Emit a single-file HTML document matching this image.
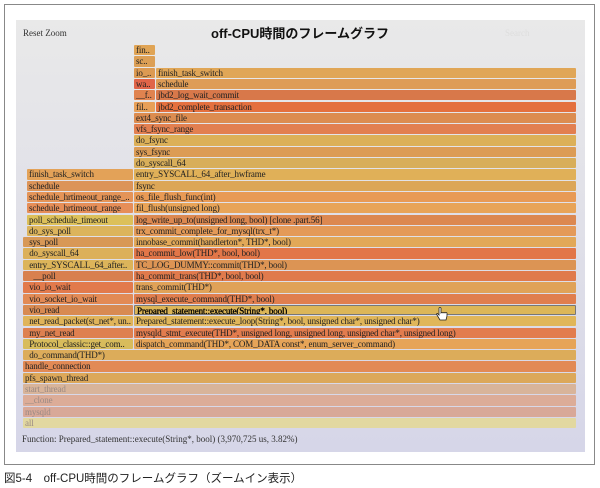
<!DOCTYPE html>
<html><head><meta charset="utf-8"><style>
body{margin:0;width:600px;height:488px;background:#fff;position:relative;overflow:hidden;font-family:"Liberation Serif",serif}
.outer{position:absolute;left:4px;top:4px;width:591px;height:461px;border:1px solid #888;box-sizing:border-box}
.panel{position:absolute;left:16px;top:20px;width:569px;height:432px;background:linear-gradient(#e9e9e9,#d6d6e8)}
.b{position:absolute;height:10.3px;font-size:9px;letter-spacing:-0.15px;line-height:11px;color:#222;padding-left:2px;box-sizing:border-box;white-space:nowrap;overflow:hidden;border-radius:1px}
.t{position:absolute;font-size:9px;color:#333}
</style></head><body>
<div class="outer"></div>
<div class="panel"></div>
<div class="t" style="left:23px;top:28px">Reset Zoom</div>
<div class="t" style="left:505px;top:28px;color:#ddd">Search</div>
<div style="position:absolute;left:0;width:600px;top:23px;text-align:center;font:bold 13px 'Liberation Sans','Noto Sans CJK JP',sans-serif;color:#111">off-CPU時間のフレームグラフ</div>
<div id="g"></div>
<div class="t" style="left:22px;top:434px;font-size:9px">Function: Prepared_statement::execute(String*, bool) (3,970,725 us, 3.82%)</div>
<div style="position:absolute;left:4px;top:470px;font:11.5px 'Liberation Sans','Noto Sans CJK JP',sans-serif;color:#222">図5-4　off-CPU時間のフレームグラフ（ズームイン表示）</div>
<script>
var rows=[
[[134,155,"fin..","#e0a455"]],
[[134,155,"sc..","#dc9f55"]],
[[134,155,"io_..","#dc9a52"],[156,576,"finish_task_switch","#e0a657"]],
[[134,155,"wa..","#e06448"],[156,576,"schedule","#de9c56"]],
[[134,155,"__f..","#e0834f"],[156,576,"jbd2_log_wait_commit","#d8784a"]],
[[134,155,"fil..","#e8a058"],[156,576,"jbd2_complete_transaction","#e4703e"]],
[[134,576,"ext4_sync_file","#dc8c50"]],
[[134,576,"vfs_fsync_range","#e27f50"]],
[[134,576,"do_fsync","#dcb058"]],
[[134,576,"sys_fsync","#dc9c55"]],
[[134,576,"do_syscall_64","#d8ae5a"]],
[[27,133,"finish_task_switch","#e3a258"],[134,576,"entry_SYSCALL_64_after_hwframe","#e0b058"]],
[[27,133,"schedule","#dc9458"],[134,576,"fsync","#dca657"]],
[[27,133,"schedule_hrtimeout_range_..","#e49458"],[134,576,"os_file_flush_func(int)","#e89a55"]],
[[27,133,"schedule_hrtimeout_range","#e68e58"],[134,576,"fil_flush(unsigned long)","#e8a458"]],
[[27,133,"poll_schedule_timeout","#dcc05a"],[134,576,"log_write_up_to(unsigned long, bool) [clone .part.56]","#dc8850"]],
[[27,133,"do_sys_poll","#dcb45c"],[134,576,"trx_commit_complete_for_mysql(trx_t*)","#e49a58"]],
[[23,133,"  sys_poll","#d89856"],[134,576,"innobase_commit(handlerton*, THD*, bool)","#e2a858"]],
[[23,133,"  do_syscall_64","#dcb05a"],[134,576,"ha_commit_low(THD*, bool, bool)","#e27648"]],
[[23,133,"  entry_SYSCALL_64_after..","#dcb45a"],[134,576,"TC_LOG_DUMMY::commit(THD*, bool)","#dc9454"]],
[[23,133,"    __poll","#d8804e"],[134,576,"ha_commit_trans(THD*, bool, bool)","#e07a4c"]],
[[23,133,"  vio_io_wait","#e27a4c"],[134,576,"trans_commit(THD*)","#e0a258"]],
[[23,133,"  vio_socket_io_wait","#e28a55"],[134,576,"mysql_execute_command(THD*, bool)","#e07e4e"]],
[[23,133,"  vio_read","#d88a52"],[134,576,"<span style='color:#000;-webkit-text-stroke:0.3px #000'>Prepared_statement::execute(String*, bool)</span>","#dcb658"]],
[[23,133,"  net_read_packet(st_net*, un..","#e0b45a"],[134,576,"Prepared_statement::execute_loop(String*, bool, unsigned char*, unsigned char*)","#e0b65a"]],
[[23,133,"  my_net_read","#de8050"],[134,576,"mysqld_stmt_execute(THD*, unsigned long, unsigned long, unsigned char*, unsigned long)","#e27c4e"]],
[[23,133,"  Protocol_classic::get_com..","#d8bc5c"],[134,576,"dispatch_command(THD*, COM_DATA const*, enum_server_command)","#e6a458"]],
[[23,576,"  do_command(THD*)","#dcac5a"]],
[[23,576,"handle_connection","#e28a55"]],
[[23,576,"pfs_spawn_thread","#dca85a"]],
[[23,576,"start_thread","#d8b49a"]],
[[23,576,"__clone","#dcac98"]],
[[23,576,"mysqld","#d8a898"]],
[[23,576,"all","#e2d8a0"]]];
var h="";
rows.forEach(function(r,i){var y=45+i*11.3;r.forEach(function(c){
var grey=i>=30;
h+='<div class="b" style="left:'+c[0]+'px;top:'+y.toFixed(1)+'px;width:'+(c[1]-c[0])+'px;background:'+c[3]+';'+(grey?'color:#9a8a84;':'')+(i==23&&c[0]==134?'border:1px solid #777;':'')+'">'+c[2].replace(/^ +/,function(s){return s.replace(/ /g,'&nbsp;')})+'</div>';});});
document.getElementById("g").innerHTML=h;
</script>
<svg style="position:absolute;left:436px;top:307px" width="12" height="14" viewBox="0 0 12 14"><path d="M3 1 v7 l-1.5-1.5 q-1.5 0 -0.5 1.5 l3 5 h6 l1-4 v-3 q-1-1-2 0 q-1-1-2 0 q-1-1-2 0 v-5 q-1-1-2 0z" fill="#fff" stroke="#222" stroke-width="0.8"/></svg>
</body></html>
